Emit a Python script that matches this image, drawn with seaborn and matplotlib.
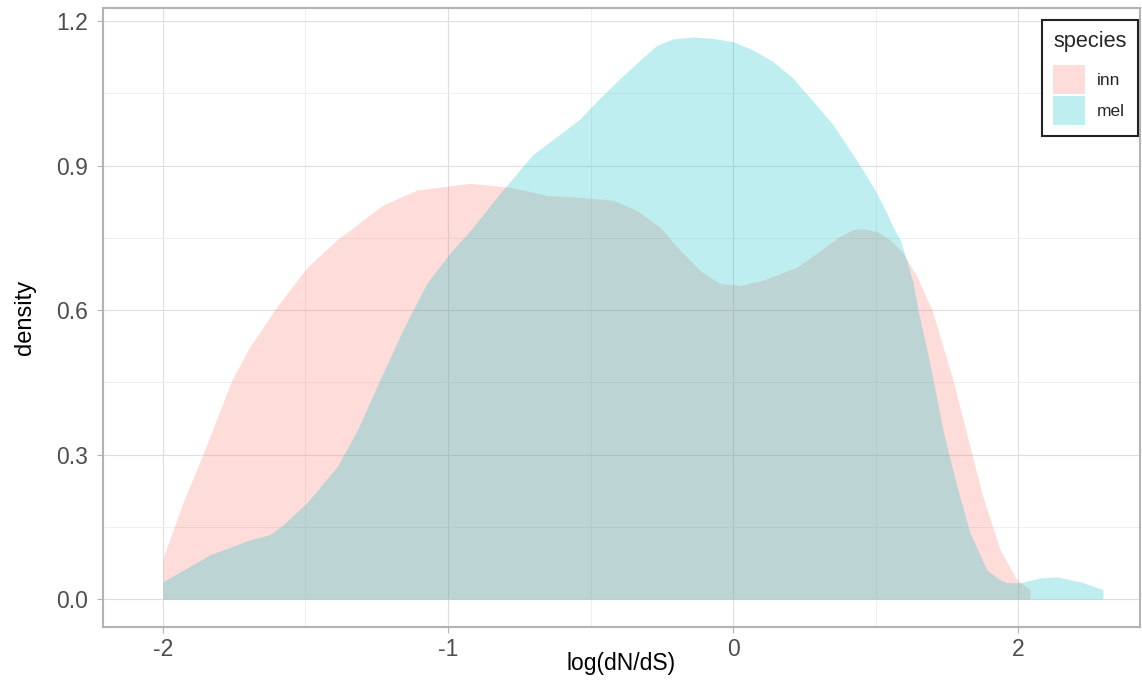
import numpy as np
import pandas as pd
import matplotlib
matplotlib.use("Agg")
import matplotlib.pyplot as plt
import seaborn as sns
from matplotlib.patches import Patch

# ---- data ----
species = ["inn", "mel"]
colors = ["#F8766D", "#00BFC4"]

inn_x = [-2.000, -1.930, -1.860, -1.758, -1.695, -1.600, -1.495, -1.389, -1.228,
         -1.109, -0.923, -0.782, -0.653, -0.537, -0.421, -0.337, -0.256, -0.186,
         -0.116, -0.046, 0.025, 0.105, 0.225, 0.340, 0.375, 0.421, 0.456, 0.504,
         0.551, 0.596, 0.645, 0.700, 0.772, 0.832, 0.877, 0.937, 0.996, 1.042]
inn_y = [0.085, 0.200, 0.300, 0.455, 0.524, 0.607, 0.688, 0.746, 0.818,
         0.849, 0.863, 0.855, 0.838, 0.834, 0.828, 0.807, 0.772, 0.724,
         0.682, 0.655, 0.651, 0.662, 0.689, 0.738, 0.753, 0.767, 0.769, 0.763,
         0.746, 0.719, 0.670, 0.597, 0.454, 0.315, 0.212, 0.102, 0.040, 0.020]

mel_x = [-2.000, -1.835, -1.695, -1.625, -1.579, -1.495, -1.389, -1.319, -1.239,
         -1.158, -1.074, -0.993, -0.912, -0.818, -0.702, -0.607, -0.537, -0.467,
         -0.396, -0.326, -0.268, -0.211, -0.140, -0.070, 0.000, 0.070, 0.140,
         0.211, 0.281, 0.351, 0.421, 0.470, 0.504, 0.539, 0.561, 0.586, 0.609,
         0.632, 0.649, 0.691, 0.737, 0.786, 0.832, 0.891, 0.937, 0.961, 1.007,
         1.077, 1.137, 1.218, 1.298]
mel_y = [0.036, 0.092, 0.123, 0.134, 0.154, 0.200, 0.275, 0.350, 0.455,
         0.559, 0.656, 0.718, 0.772, 0.842, 0.923, 0.965, 0.997, 1.040,
         1.081, 1.119, 1.149, 1.163, 1.167, 1.164, 1.157, 1.140, 1.116,
         1.081, 1.033, 0.985, 0.922, 0.877, 0.843, 0.802, 0.773, 0.746, 0.704,
         0.656, 0.600, 0.489, 0.350, 0.233, 0.137, 0.060, 0.040, 0.034, 0.034,
         0.044, 0.046, 0.036, 0.020]

x_tick_pos = [-2, -1, 0, 1]
x_tick_labels = ["-2", "-1", "0", "2"]
y_ticks = [0.0, 0.3, 0.6, 0.9, 1.2]
y_tick_labels = ["0.0", "0.3", "0.6", "0.9", "1.2"]

df = pd.concat([
    pd.DataFrame({"x": inn_x, "density": inn_y, "species": "inn"}),
    pd.DataFrame({"x": mel_x, "density": mel_y, "species": "mel"}),
], ignore_index=True)

# ---- style ----
sns.set_theme(style="white")
plt.rcParams["font.family"] = ["Liberation Sans", "DejaVu Sans"]

fig = plt.figure(figsize=(11.42, 6.83), dpi=100)
ax = fig.add_axes([103 / 1142, 1 - 627 / 683, (1140 - 103) / 1142, (627 - 8) / 683])

alpha = 0.25
sns.lineplot(data=df, x="x", y="density", hue="species", palette=dict(zip(species, colors)),
             linewidth=0, legend=False, ax=ax, sort=False, estimator=None)
for sp, col in zip(species, colors):
    d = df[df["species"] == sp]
    ax.fill_between(d["x"], 0, d["density"], color=col, alpha=alpha, linewidth=0, zorder=2)

ax.set_xlim(-2.2105, 1.428)
ax.set_ylim(-0.058, 1.227)

# grid
ax.set_xticks(x_tick_pos)
ax.set_xticklabels(x_tick_labels)
ax.set_yticks(y_ticks)
ax.set_yticklabels(y_tick_labels)
ax.set_xticks([-1.5, -0.5, 0.5], minor=True)
ax.set_yticks([0.15, 0.45, 0.75, 1.05], minor=True)
ax.grid(True, which="major", color="#DEDEDE", linewidth=0.8, zorder=0)
ax.grid(True, which="minor", color="#EDEDED", linewidth=0.6, zorder=0)
ax.set_axisbelow(True)

for s in ax.spines.values():
    s.set_color("#B3B3B3")
    s.set_linewidth(1.5)

ax.tick_params(axis="both", which="major", length=4, width=0.8, color="#B3B3B3",
               labelsize=16.5, labelcolor="#4D4D4D", bottom=True, left=True)
ax.tick_params(axis="y", which="major", pad=6.5)
ax.tick_params(axis="x", which="major", pad=4)
ax.tick_params(axis="both", which="minor", length=0)

ax.set_xlabel("log(dN/dS)", fontsize=16.5, color="black")
ax.xaxis.set_label_coords(0.5, -0.041)
ax.set_ylabel("density", fontsize=17, color="black", labelpad=15)

handles = [Patch(facecolor=c, alpha=alpha, edgecolor="none") for c in colors]
leg = ax.legend(handles, species, title="species", loc="upper right",
                bbox_to_anchor=(0.998, 0.9806), borderaxespad=0, fontsize=12.5,
                title_fontsize=15.7, handlelength=1.8, handleheight=2.2,
                labelspacing=0.12, handletextpad=0.7, borderpad=0.65,
                fancybox=False, framealpha=1, edgecolor="#222222")
leg.get_frame().set_linewidth(1.5)
leg._legend_box.align = "left"
leg._legend_box.sep = 9

fig.savefig("out.png", dpi=100)
